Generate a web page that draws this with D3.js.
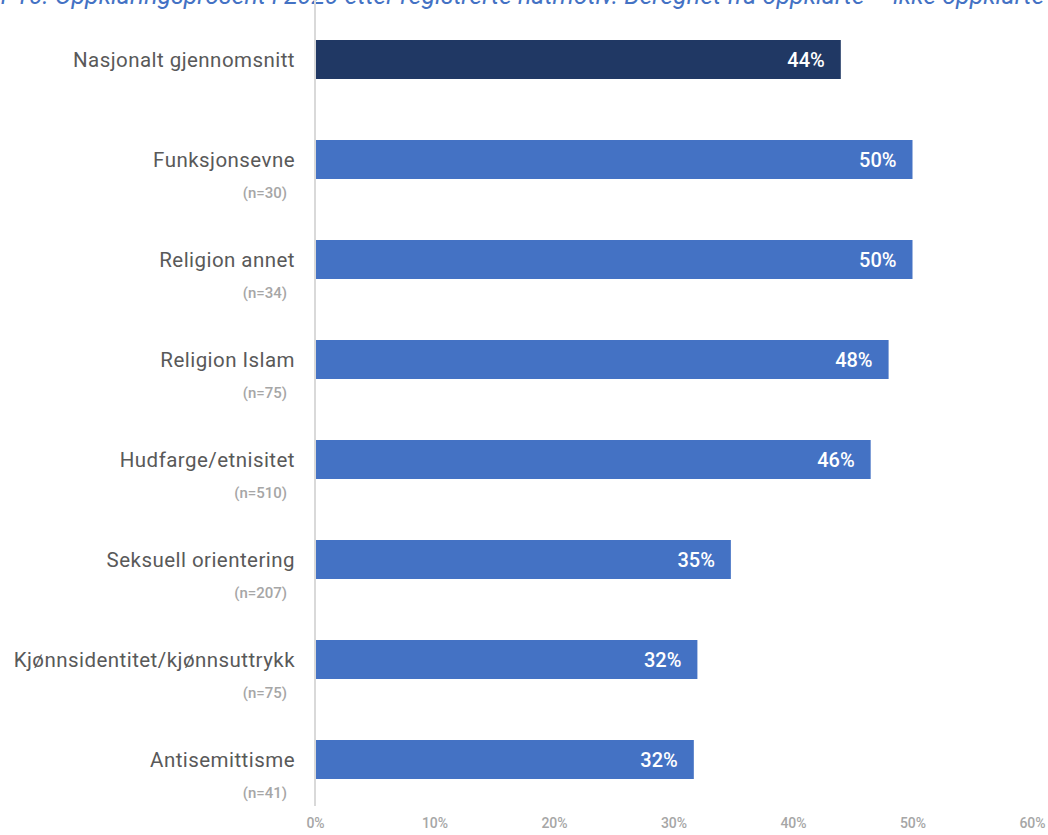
<!DOCTYPE html>
<html><head><meta charset="utf-8">
<script src="https://cdn.jsdelivr.net/npm/d3@7"></script>
<style>body{margin:0;background:#fff;} svg{display:block;}</style>
</head><body>
<svg id="chart" width="1048" height="835"></svg>
<script>
const categories = ["Nasjonalt gjennomsnitt","Funksjonsevne","Religion annet","Religion Islam","Hudfarge/etnisitet","Seksuell orientering","Kjønnsidentitet/kjønnsuttrykk","Antisemittisme"];
const nLabels = ["","(n=30)","(n=34)","(n=75)","(n=510)","(n=207)","(n=75)","(n=41)"];
const values = [44.0, 50.0, 50.0, 48.0, 46.5, 34.8, 32.0, 31.7];
const valueLabels = ["44%","50%","50%","48%","46%","35%","32%","32%"];
const xTicks = [0,10,20,30,40,50,60];
const titlePrefix = "Figu";
const title = "Figur 10: Oppklaringsprosent i 2020 etter registrerte hatmotiv. Beregnet fra oppklarte – ikke oppklarte";

const svg = d3.select("#chart");
const font = "Roboto, 'Noto Sans', sans-serif";
const x = d3.scaleLinear().domain([0,60]).range([315,1032]);
const y = d3.scaleBand().domain(categories).range([9.5,809.5]).paddingInner(0.61).paddingOuter(0.305);

// title (clipped at top, as in the reference)
const tmp = svg.append("text").attr("font-family",font).attr("font-style","italic").attr("font-size",25).text(titlePrefix);
const pre = tmp.node().getComputedTextLength();
tmp.remove();
svg.append("text").attr("x",-pre+1).attr("y",4).attr("font-family",font).attr("font-style","italic")
  .attr("font-size",25).attr("fill","#4472C4").text(title);

// axis line
svg.append("line").attr("x1",x(0)).attr("x2",x(0)).attr("y1",0).attr("y2",806)
  .attr("stroke","#d9d9d9").attr("stroke-width",2);

// bars
svg.selectAll("rect.bar").data(categories).join("rect").attr("class","bar")
  .attr("x",x(0)+1).attr("y",d=>y(d)).attr("height",y.bandwidth())
  .attr("width",(d,i)=>x(values[i])-x(0)-1)
  .attr("fill",(d,i)=>i===0?"#203864":"#4472C4");

// value labels
svg.selectAll("text.val").data(categories).join("text").attr("class","val")
  .attr("x",(d,i)=>x(values[i])-16).attr("y",d=>y(d)+y.bandwidth()/2)
  .attr("dy","0.36em").attr("text-anchor","end").attr("font-family",font)
  .attr("font-weight",500).attr("font-size",20).attr("fill","#fff")
  .text((d,i)=>valueLabels[i]);

// category labels
svg.selectAll("text.cat").data(categories).join("text").attr("class","cat")
  .attr("x",295).attr("y",d=>y(d)+y.bandwidth()/2).attr("dy","0.36em")
  .attr("text-anchor","end").attr("font-family",font).attr("font-size",20.5)
  .attr("letter-spacing","0.45px")
  .attr("fill","#595959").text(d=>d);

svg.selectAll("text.n").data(categories).join("text").attr("class","n")
  .attr("x",287).attr("y",d=>y(d)+y.bandwidth()/2+33).attr("dy","0.36em")
  .attr("text-anchor","end").attr("font-family",font).attr("font-weight",500).attr("font-size",15)
  .attr("fill","#a6a6a6").text((d,i)=>nLabels[i]);

// x axis
const xAxis = d3.axisBottom(x).tickValues(xTicks).tickFormat(d=>d+"%").tickSize(0);
const gx = svg.append("g").attr("transform","translate(0,815)").call(xAxis);
gx.select(".domain").remove();
gx.selectAll("text").attr("font-family",font).attr("font-weight",500).attr("font-size",14).attr("fill","#a6a6a6");
</script>
</body></html>
